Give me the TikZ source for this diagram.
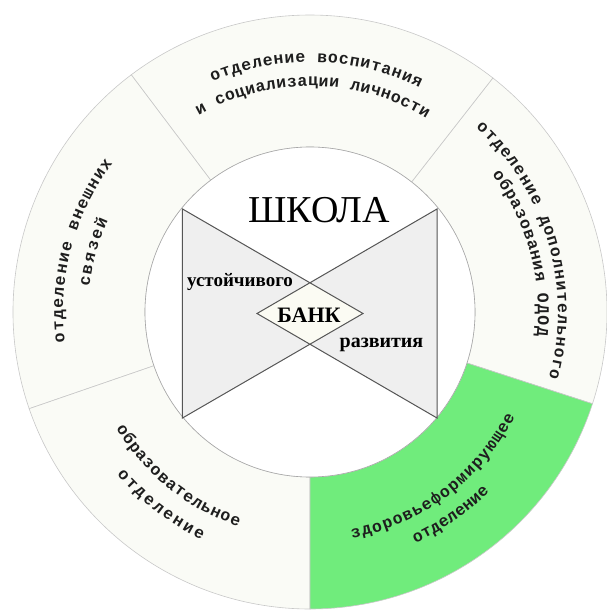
\documentclass[tikz,border=0pt]{standalone}
\usepackage{fontspec}
\setmainfont{Liberation Serif}
\setmonofont{Liberation Mono}
\usepackage{xcolor}
\usepackage{tikz}
\usetikzlibrary{decorations.text}
\definecolor{zelenyj}{HTML}{70EC7C}
\definecolor{kolco}{HTML}{FAFBF6}
\definecolor{seryj}{HTML}{EFEFEF}
\definecolor{krem}{HTML}{FBFBF3}
\definecolor{linija}{HTML}{555555}
\definecolor{kontur}{HTML}{C8C8C8}
\definecolor{tekst}{HTML}{1E1E1E}
\newcommand{\ringfont}{\ttfamily\bfseries\fontsize{16.5}{18}\selectfont}
% текст по дуге: текст, начальный угол, конечный угол, радиус
\newcommand{\dugatekst}[4]{%
  \path[decorate, decoration={text along path, text={|\ringfont|#1}, text color=tekst, text align=fit to path}]
    (#2:#4) arc[start angle=#2, end angle=#3, radius=#4];}

\begin{document}
\begin{tikzpicture}[x=1pt, y=1pt]
        \useasboundingbox (-310,-298) rectangle (296,312);
        % Кольцо из пяти секторов
        \foreach \a/\b in {342/412, 52/127, 127/199, 199/270}
            \filldraw[fill=kolco, draw=kontur, line width=0.6pt] (\a:165) arc[start angle=\a, end angle=\b, radius=165]
                -- (\b:297) arc[start angle=\b, end angle=\a, radius=297] -- cycle;
        \filldraw[fill=zelenyj, draw=kontur, line width=0.6pt] (270:165) arc[start angle=270, end angle=342, radius=165]
            -- (342:297) arc[start angle=342, end angle=270, radius=297] -- cycle;
        % Внутренний круг
        \filldraw[fill=white, draw=gray!70, line width=0.6pt] (0,0) circle[radius=165];
        % Два треугольника
        \coordinate (tl) at (-127.5,103);
        \coordinate (bl) at (-127.5,-106);
        \coordinate (tr) at (127,103);
        \coordinate (br) at (127,-106);
        \coordinate (apexR) at (53,-1.5);
        \coordinate (apexL) at (-53,-1.5);
        \coordinate (rombV) at (intersection of tl--apexR and tr--apexL);
        \coordinate (rombN) at (intersection of bl--apexR and br--apexL);
        \fill[krem] (apexL) -- (rombV) -- (apexR) -- (rombN) -- cycle;
        \filldraw[fill=seryj, draw=linija, line width=1pt, even odd rule]
            (tl) -- (apexR) -- (bl) -- cycle (tr) -- (apexL) -- (br) -- cycle;
        % Надписи в центре
        \node[anchor=base, font=\fontsize{38}{40}\selectfont] (shkola) at (9,89) {ШКОЛА};
        \node[anchor=base, font=\bfseries\fontsize{19}{21}\selectfont] (ustoich) at (-70,25) {устойчивого};
        \node[anchor=base, font=\bfseries\fontsize{22}{24}\selectfont] (bank) at (-1,-11) {БАНК};
        \node[anchor=base, font=\bfseries\fontsize{20}{22}\selectfont] (razv) at (71.5,-36) {развития};
        % Надписи на кольце
        \dugatekst{отделение воспитания}{113}{64}{250}
        \dugatekst{и социализации личности}{119.5}{59}{226}
        \dugatekst{отделение дополнительного}{48}{-15.5}{248}
        \dugatekst{образования ОДОД}{37}{-6}{228}
        \dugatekst{отделение внешних}{187}{143}{247}
        \dugatekst{связей}{173.5}{155.5}{222}
        \dugatekst{образовательное}{211}{251.5}{226}
        \dugatekst{отделение}{220}{244.5}{252}
        \dugatekst{здоровьеформирующее}{280.5}{333}{230}
        \dugatekst{отделение}{294.5}{315}{254}
    \end{tikzpicture}
\end{document}
